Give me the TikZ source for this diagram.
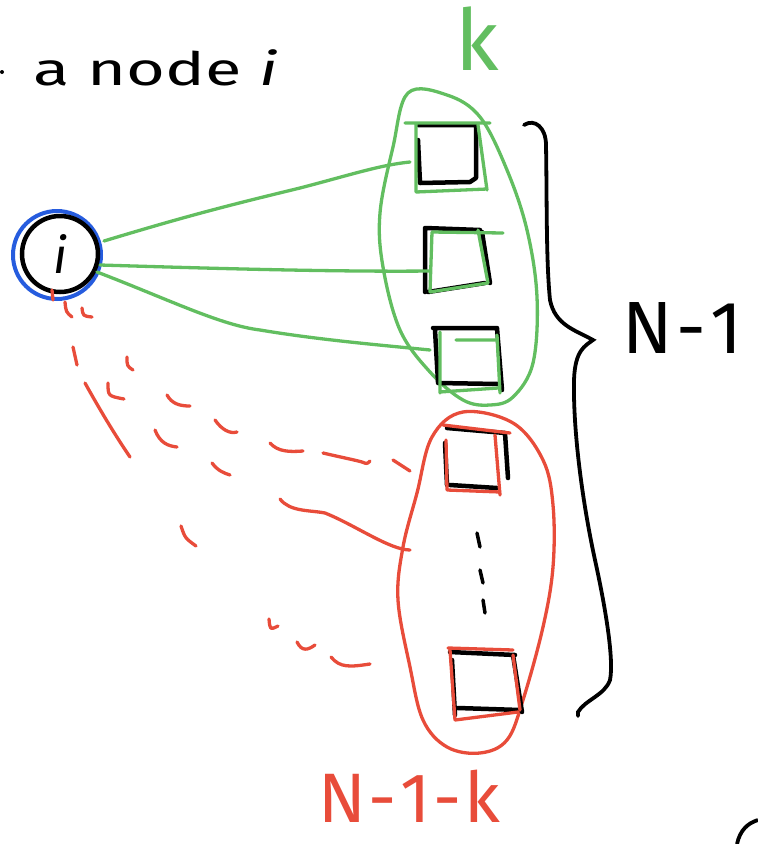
\documentclass[tikz,border=0pt]{standalone}
\usepackage{fontspec}
\setmainfont{Fira Sans}
\definecolor{skgreen}{RGB}{98,190,96}
\definecolor{skred}{RGB}{232,76,58}
\definecolor{skblue}{RGB}{38,92,222}
\begin{document}
\begin{tikzpicture}[x=1pt,y=-1pt,
  bk/.style={draw=black,line width=4.5pt,line cap=round,line join=round},
  gr/.style={draw=skgreen,line width=3.3pt,line cap=round,line join=round},
  rd/.style={draw=skred,line width=3.3pt,line cap=round,line join=round},
  lbl/.style={inner sep=0pt,anchor=base west}]
\useasboundingbox (0,0) rectangle (758,844);
% title text
\node[lbl] (title) at (33,85) {\fontsize{46}{50}\selectfont\scalebox{1.45}[1]{a node \textit{i}}};
\fill (2,72) circle (2);
% green label
\node[lbl,text=skgreen] (klbl) at (455,70) {\fontsize{85}{90}\selectfont k};
% node i
\node[circle,draw=skblue,line width=4pt,minimum size=88pt] (ci) at (57,255) {};
\node[circle,draw=black,line width=4.5pt,minimum size=76pt] (cik) at (60,254) {\fontsize{50}{50}\selectfont\textit{i}};
% green group blob
\draw[gr] plot[smooth cycle,tension=0.6] coordinates {(408,93) (447,95) (480,117) (507,170) (527,230) (537,297) (533,363) (513,397) (490,405) (463,400) (430,372) (400,330) (383,267) (380,213) (393,147)};
% green squares (black + green overlay)
\draw[bk] (418,125) -- (476,125) -- (476,178) -- (470,182) -- (420,183) -- (418,140);
\draw[gr] (405,123) -- (490,123) (478,125) -- (487,190) (416,192) -- (487,189) (416,125) -- (416,192);
\draw[bk] (425,228) -- (480,230) (482,232) -- (490,283) (428,292) -- (485,283) (425,228) -- (425,292);
\draw[gr] (432,232) -- (503,233) (432,232) -- (430,292) (430,292) -- (488,283) (478,230) -- (488,283);
\draw[bk] (433,328) -- (497,328) (435,330) -- (438,382) (438,383) -- (498,384) (497,328) -- (502,390);
\draw[gr] (440,332) -- (440,393) (440,392) -- (498,388) (497,335) -- (500,393) (456,340) -- (495,340);
% green connectors
\draw[gr] (104,241) .. controls (190,215) and (230,205) .. (300,188) .. controls (350,175) and (380,165) .. (410,162);
\draw[gr] (100,265) .. controls (200,268) and (330,272) .. (430,271);
\draw[gr] (97,272) .. controls (170,300) and (220,325) .. (260,330) .. controls (320,340) and (380,345) .. (430,350);
% red group blob
\draw[rd] plot[smooth cycle,tension=0.6] coordinates {(463,412) (513,423) (543,460) (553,505) (553,567) (543,627) (523,700) (507,740) (480,753) (447,747) (423,720) (410,667) (398,600) (403,547) (417,493) (432,437)};
% red squares
\draw[bk] (447,428) -- (505,433) (445,443) -- (447,485) (450,485) -- (497,488) (505,433) -- (508,478);
\draw[rd] (443,425) -- (510,433) (446,440) -- (447,490) (447,490) -- (500,492) (495,435) -- (500,495);
\draw[bk] (450,652) -- (515,655) (452,660) -- (455,715) (458,708) -- (520,710) (513,655) -- (522,712);
\draw[rd] (448,648) -- (513,650) (450,650) -- (455,720) (455,720) -- (518,712) (513,655) -- (520,710);
% vertical dots
\draw[bk,line width=3.5pt] (477,533) -- (480,547) (480,570) -- (483,583) (483,600) -- (485,613);
% red dashed connectors (hand-drawn dashes)
\draw[rd] (52,290) -- (53,300);
\draw[rd] (65,302) .. controls (66,312) .. (72,317);
\draw[rd] (82,308) .. controls (83,316) .. (92,317);
\draw[rd] (73,347) -- (77,365);
\draw[rd] (85,383) .. controls (100,410) and (115,435) .. (130,457);
\draw[rd] (127,357) .. controls (127,366) .. (133,370);
\draw[rd] (108,383) .. controls (108,396) .. (124,399);
\draw[rd] (167,395) .. controls (172,404) and (180,406) .. (190,406);
\draw[rd] (155,430) .. controls (160,443) and (168,446) .. (177,447);
\draw[rd] (215,420) .. controls (222,430) and (230,434) .. (237,432);
\draw[rd] (270,443) .. controls (278,452) and (290,452) .. (303,451);
\draw[rd] (323,453) .. controls (340,457) and (355,460) .. (362,462) .. controls (367,464) .. (370,461);
\draw[rd] (393,460) -- (410,471);
\draw[rd] (212,463) .. controls (218,471) and (224,473) .. (230,475);
\draw[rd] (181,526) .. controls (185,538) .. (196,546);
\draw[rd] (280,499) .. controls (290,512) and (310,510) .. (325,513) .. controls (355,525) and (390,550) .. (410,550);
\draw[rd] (269,619) .. controls (270,630) .. (278,626);
\draw[rd] (297,642) .. controls (302,652) and (308,650) .. (315,645);
\draw[rd] (331,657) .. controls (340,668) and (350,667) .. (370,664);
% brace
\draw[draw=black,line width=3.8pt,line cap=round] (524,125) .. controls (535,118) and (546,128) .. (546,145)
  .. controls (547,200) and (546,260) .. (550,300) .. controls (555,325) and (575,330) .. (593,340)
  .. controls (585,346) and (575,350) .. (574,380) .. controls (573,430) and (582,500) .. (595,560)
  .. controls (606,610) and (614,660) .. (610,680) .. controls (605,695) and (585,700) .. (578,712) -- (578,716);
\node[lbl] (nm1) at (622,353) {\fontsize{74}{80}\selectfont N\kern4pt-\kern4pt1};
% red label
\node[lbl,text=skred] (nm1k) at (318,822) {\fontsize{70}{74}\selectfont N\kern3pt-\kern3pt1\kern3pt-\kern3pt k};
% corner arc
\draw[draw=black,line width=3.8pt] (737,844) .. controls (740,830) and (748,823) .. (758,820);
\end{tikzpicture}
\end{document}
